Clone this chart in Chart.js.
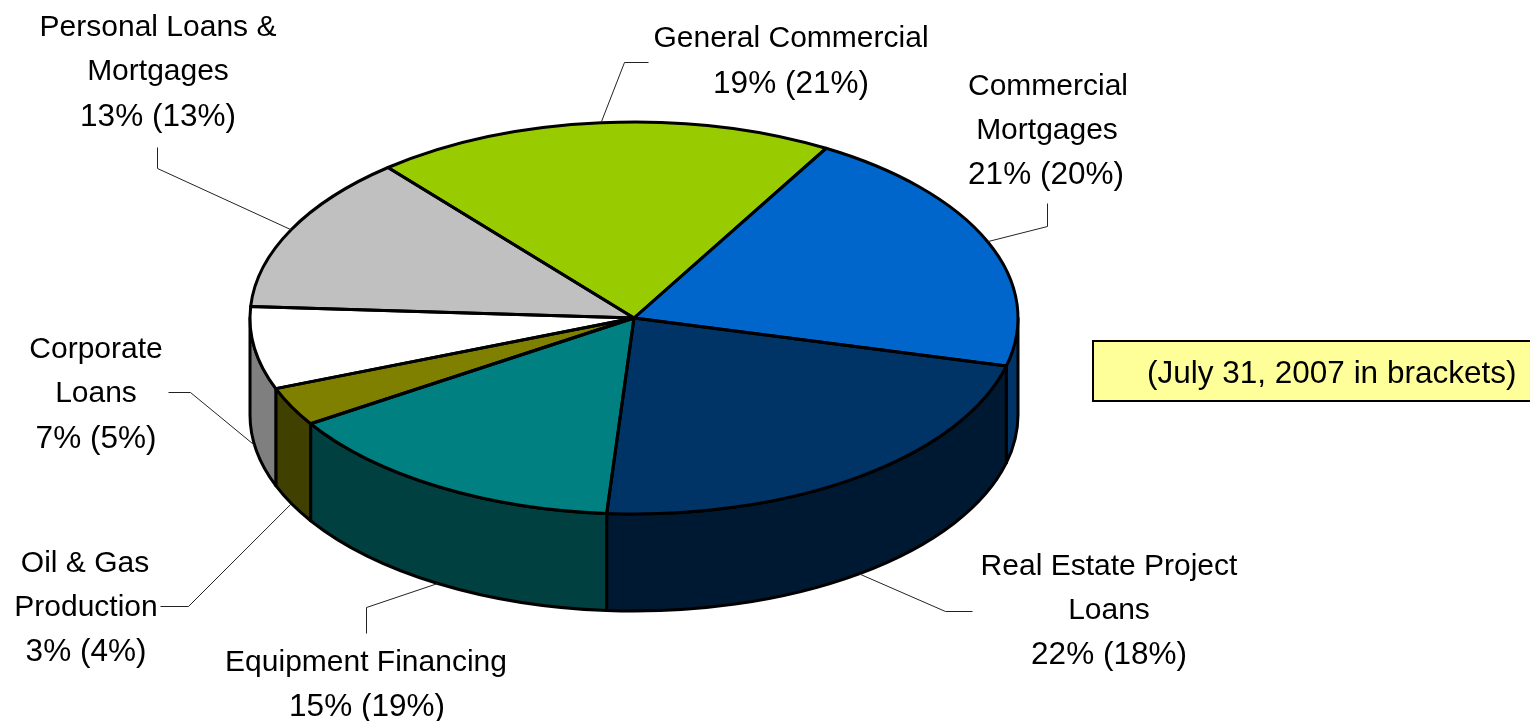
<!DOCTYPE html>
<html>
<head>
<meta charset="utf-8">
<style>html,body{margin:0;padding:0;background:#fff;overflow:hidden}canvas{display:block}</style>
<script src="https://cdn.jsdelivr.net/npm/chart.js@4"></script>
</head>
<body>
<canvas id="c" width="1530" height="721"></canvas>
<script>
// Data
const categories = ['Commercial Mortgages','Real Estate Project Loans','Equipment Financing','Oil & Gas Production','Corporate Loans','Personal Loans & Mortgages','General Commercial'];
const shares = [20.6, 22.2, 14.8, 3.2, 6.8, 13.0, 19.4];
const sharesCurrent = [21, 22, 15, 3, 7, 13, 19];
const sharesPrior = [20, 18, 19, 4, 5, 13, 21];
const sliceColors = ['#0066CC','#003366','#008080','#808000','#FFFFFF','#C0C0C0','#99CC00'];
const note = '(July 31, 2007 in brackets)';

// Layout
const CX = 634, CY = 318, RX = 384, RY = 196, DEPTH = 97;
const FONT = '30px "Liberation Sans", Arial, sans-serif';
const WIDE_FONT = '31.5px "Liberation Sans", Arial, sans-serif';
const LINE_W = 3;
const labelLayout = [
  {lines:['Commercial','Mortgages'], x:[1048,1047,1046], y:[95,139,184], elbows:[[1047,226],[1047,203]]},
  {lines:['Real Estate Project','Loans'], x:[1109,1109,1109], y:[575,619,664], elbows:[[945,611],[972,611]]},
  {lines:['Equipment Financing'], x:[366,367], y:[671,716], elbows:[[366,607],[366,633]]},
  {lines:['Oil & Gas','Production'], x:[85,86,86], y:[572,616,661], elbows:[[188,606],[160,606]]},
  {lines:['Corporate','Loans'], x:[96,96,96], y:[358,402,448], elbows:[[190,392],[168,392]]},
  {lines:['Personal Loans &','Mortgages'], x:[158,158,158], y:[36,80,126], elbows:[[157,168],[157,147]]},
  {lines:['General Commercial'], x:[791,791], y:[47,93], elbows:[[624,62],[648,62]]}
];

function darker(hex){
  const n = parseInt(hex.slice(1),16);
  const h = v => (v>>1).toString(16).padStart(2,'0');
  return '#'+h((n>>16)&255)+h((n>>8)&255)+h(n&255);
}
function arcsOf(chart){
  return chart.getDatasetMeta(0).data.map(a => a.getProps(['x','y','startAngle','endAngle','outerRadius'], true));
}

const pie3d = {
  id:'pie3d',
  beforeDatasetsDraw(chart){
    const ctx = chart.ctx, arcs = arcsOf(chart);
    ctx.save();
    ctx.lineWidth = LINE_W; ctx.strokeStyle = '#000'; ctx.lineJoin = 'round';
    arcs.forEach((a,i) => {
      [-2*Math.PI,0,2*Math.PI].forEach(k => {
        const s = Math.max(a.startAngle+k, 0), e = Math.min(a.endAngle+k, Math.PI);
        if (e <= s) return;
        ctx.beginPath();
        ctx.ellipse(CX,CY,RX,RY,0,s,e);
        ctx.ellipse(CX,CY+DEPTH,RX,RY,0,e,s,true);
        ctx.closePath();
        ctx.fillStyle = darker(sliceColors[i]);
        ctx.fill(); ctx.stroke();
      });
    });
    ctx.restore();
    const r = arcs[0].outerRadius;
    ctx.save();
    ctx.translate(CX,CY);
    ctx.scale(RX/r,RY/r);
    ctx.translate(-arcs[0].x,-arcs[0].y);
  },
  afterDatasetsDraw(chart){
    const ctx = chart.ctx;
    ctx.restore();
    ctx.save();
    ctx.lineWidth = LINE_W; ctx.strokeStyle = '#000'; ctx.lineJoin = 'round';
    arcsOf(chart).forEach(a => {
      ctx.beginPath();
      ctx.moveTo(CX,CY);
      ctx.ellipse(CX,CY,RX,RY,0,a.startAngle,a.endAngle);
      ctx.closePath();
      ctx.stroke();
    });
    ctx.restore();
  },
  afterDraw(chart){
    const ctx = chart.ctx, arcs = arcsOf(chart);
    ctx.save();
    // leader lines start on the slice's outer edge at its mid-angle
    ctx.lineWidth = 1; ctx.strokeStyle = '#222';
    arcs.forEach((a,i) => {
      const m = (a.startAngle+a.endAngle)/2;
      const px = CX+RX*Math.cos(m);
      const py = CY+RY*Math.sin(m)+(Math.sin(m)>0?DEPTH:0);
      ctx.beginPath();
      ctx.moveTo(px,py);
      labelLayout[i].elbows.forEach(p => ctx.lineTo(p[0]+.5,p[1]+.5));
      ctx.stroke();
    });
    // labels
    ctx.fillStyle = '#000'; ctx.textAlign = 'center'; ctx.textBaseline = 'alphabetic';
    labelLayout.forEach((l,i) => {
      ctx.font = FONT;
      l.lines.forEach((t,j) => ctx.fillText(t,l.x[j],l.y[j]));
      const k = l.lines.length;
      ctx.font = WIDE_FONT;
      ctx.fillText(sharesCurrent[i]+'% ('+sharesPrior[i]+'%)',l.x[k],l.y[k]);
    });
    // note box
    ctx.fillStyle = '#FFFF99'; ctx.strokeStyle = '#000'; ctx.lineWidth = 2;
    ctx.fillRect(1093,341,440,60); ctx.strokeRect(1093,341,440,60);
    ctx.fillStyle = '#000'; ctx.textAlign = 'left'; ctx.font = WIDE_FONT;
    ctx.fillText(note,1147,383);
    ctx.restore();
  }
};

new Chart(document.getElementById('c'),{
  type:'pie',
  data:{labels:categories,datasets:[{data:shares,backgroundColor:sliceColors,borderWidth:0,clip:false}]},
  options:{
    responsive:false,animation:false,rotation:30,
    layout:{padding:{left:40,right:40,top:40,bottom:40}},
    plugins:{legend:{display:false},title:{display:false},tooltip:{enabled:false}}
  },
  plugins:[pie3d]
});
</script>
</body>
</html>
